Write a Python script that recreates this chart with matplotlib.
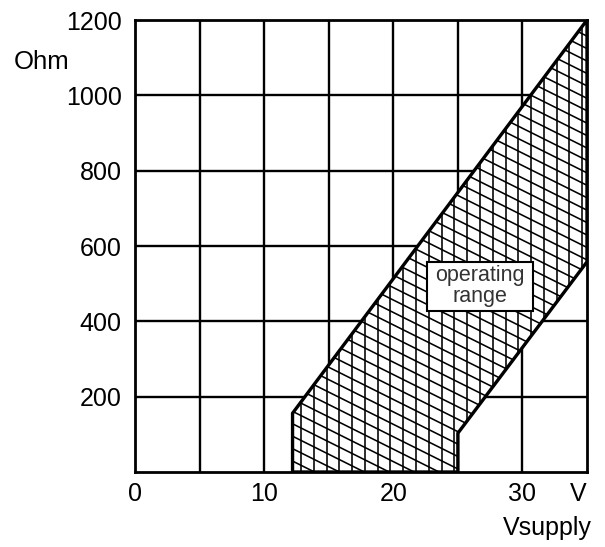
import matplotlib
matplotlib.use("Agg")
import matplotlib.pyplot as plt
from matplotlib.patches import Polygon, Rectangle
import numpy as np

plt.rcParams['font.family'] = ['Liberation Sans', 'DejaVu Sans']

# Границы рабочей области (Vsupply, Ohm)
range_v = [12.2, 12.2, 35.0, 35.0, 25.0, 25.0]
range_ohm = [0, 156, 1200, 558, 103, 0]

x_ticks = [0, 10, 20, 30, 35]
x_tick_labels = ['0', '10', '20', '30', 'V']
y_ticks = [200, 400, 600, 800, 1000, 1200]
y_tick_labels = ['200', '400', '600', '800', '1000', '1200']

fig = plt.figure(figsize=(6.05, 5.47), dpi=100)
ax = fig.add_axes([135 / 605, 1 - 472 / 547, 452 / 605, 452 / 547])
ax.set_xlim(0, 35)
ax.set_ylim(0, 1200)

# Сетка
for gx in np.arange(5, 35, 5):
    ax.axvline(gx, color='black', lw=1.7, zorder=1)
for gy in np.arange(200, 1200, 200):
    ax.axhline(gy, color='black', lw=1.7, zorder=1)

# Рабочая область с белой заливкой
verts = list(zip(range_v, range_ohm))
poly = Polygon(verts, closed=True, facecolor='white', edgecolor='none', zorder=2)
ax.add_patch(poly)

# Штриховка: вертикальные и наклонные линии, обрезанные по области
for hx in np.arange(12.85, 35, 0.99):
    ln, = ax.plot([hx, hx], [0, 1200], color='black', lw=1.15, zorder=3)
    ln.set_clip_path(poly)
slope = -17.1
xs = np.array([0, 35])
for b in np.arange(-400, 2000, 33):
    ln, = ax.plot(xs, b + slope * (xs - 12.2), color='black', lw=1.15, zorder=3)
    ln.set_clip_path(poly)

outline = Polygon(verts, closed=True, facecolor='none', edgecolor='black',
                  lw=2.4, joinstyle='miter', zorder=4)
ax.add_patch(outline)

# Подпись области
ax.add_patch(Rectangle((22.61, 427), 8.22, 131, facecolor='white',
                       edgecolor='black', lw=1.5, zorder=5))
ax.text(26.72, 493, 'operating\nrange', ha='center', va='center',
        fontsize=15.5, color='#333333', linespacing=1.0, zorder=6)

for sp in ax.spines.values():
    sp.set_linewidth(2.0)
    sp.set_zorder(7)

ax.set_xticks(x_ticks)
ax.set_xticklabels(x_tick_labels, fontsize=18)
ax.set_yticks(y_ticks)
ax.set_yticklabels(y_tick_labels, fontsize=18)
ax.tick_params(axis='both', length=0)
ax.tick_params(axis='x', pad=7.5)
ax.tick_params(axis='y', pad=9.5)
ax.get_xticklabels()[-1].set_ha('right')

fig.text(14 / 605, 1 - 69 / 547, 'Ohm', fontsize=18.5, ha='left', va='baseline')
fig.text(592 / 605, 1 - 535 / 547, 'Vsupply', fontsize=18, ha='right', va='baseline')

fig.savefig('out.png', dpi=100, facecolor='white')
